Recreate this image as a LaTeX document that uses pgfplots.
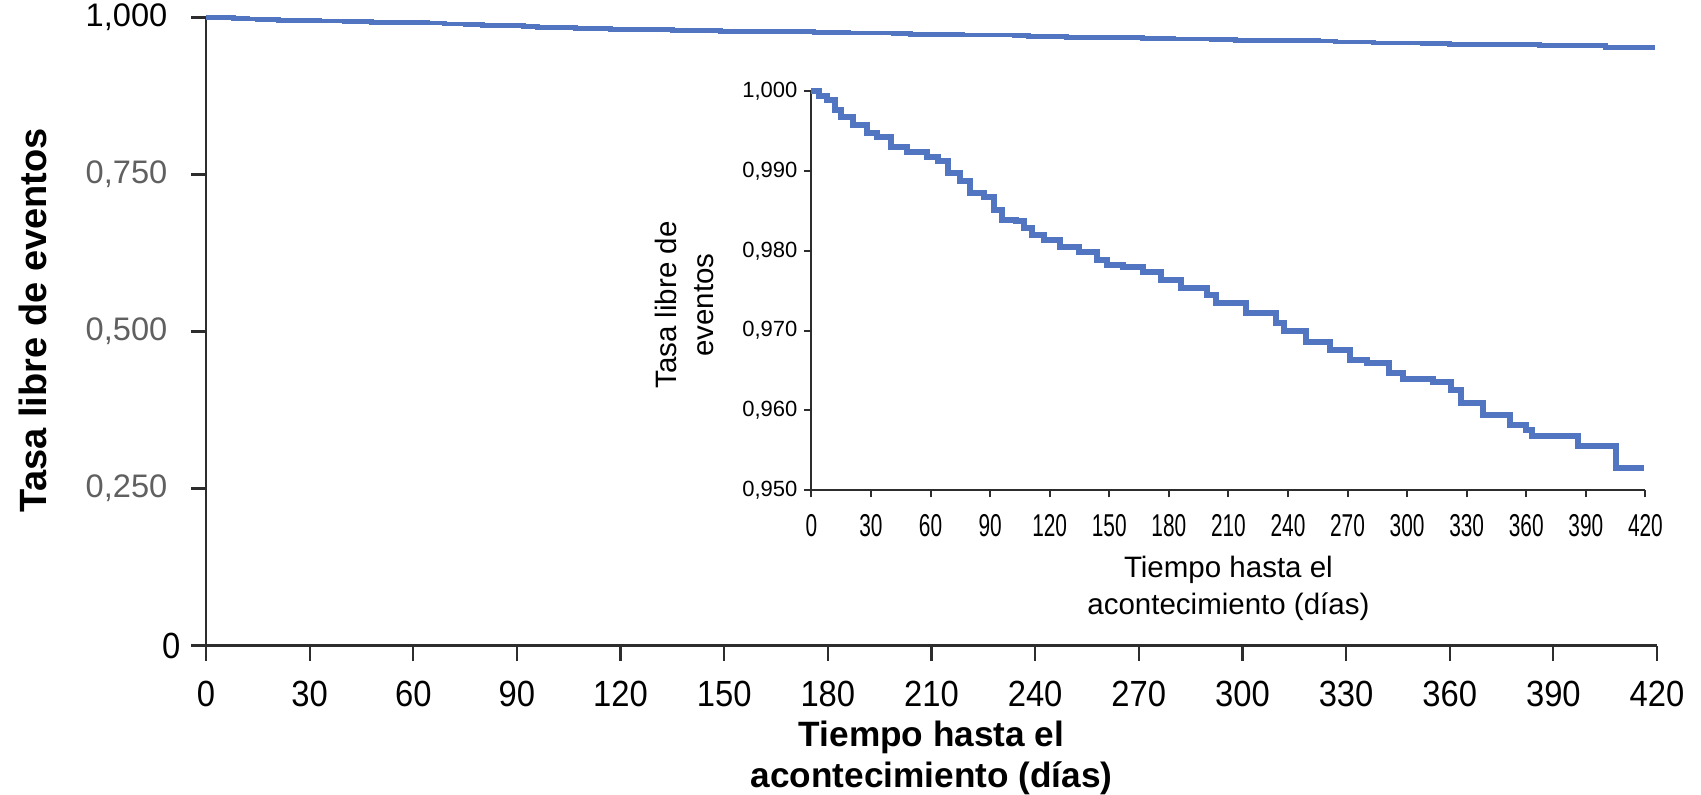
\documentclass[border=0pt]{standalone}
\usepackage{fontspec}
\setmainfont{Liberation Sans}
\newfontfamily\condfont[FakeStretch=0.9]{Liberation Sans}
\newfontfamily\narrowfont[FakeStretch=0.66]{Liberation Sans}
\usepackage{pgfplots}
\pgfplotsset{compat=1.18}
\usepackage{pgfplotstable}

\definecolor{kmblue}{RGB}{82,117,194}
\definecolor{axisgray}{RGB}{45,45,45}
\definecolor{tickgray}{RGB}{96,96,96}

% Kaplan-Meier estimate
\pgfplotstableread{
t s
0 1.0000
4 0.9994
8 0.9989
12 0.9976
15 0.9968
21 0.9958
28 0.9947
33 0.9943
40 0.9930
48 0.9924
58 0.9918
64 0.9912
69 0.9897
75 0.9887
80 0.9872
87 0.9868
92 0.9851
96 0.9839
103 0.9837
107 0.9828
111 0.9820
117 0.9814
125 0.9805
135 0.9799
144 0.9788
149 0.9782
157 0.9780
167 0.9774
176 0.9763
186 0.9753
199 0.9745
204 0.9734
219 0.9722
234 0.9709
238 0.9699
249 0.9686
261 0.9676
271 0.9663
280 0.9659
291 0.9647
298 0.9640
313 0.9636
322 0.9626
327 0.9609
338 0.9594
352 0.9582
360 0.9576
363 0.9568
386 0.9555
405 0.9528
419.5 0.9528
}\kmdata

\begin{document}
\begin{tikzpicture}
\useasboundingbox (-103pt,-74.25pt) rectangle (747.5pt,322.75pt);

% main axis
\begin{axis}[
    at={(0,0)}, anchor=south west,
    scale only axis,
    width=725.5pt, height=314pt,
    xmin=0, xmax=420, ymin=0, ymax=1,
    clip=false,
    axis lines=left,
    axis line style={-, line width=1.1pt, axisgray},
    tick align=outside,
    major tick length=7.5pt,
    tick style={line width=1.1pt, axisgray},
    xtick={0,30,...,420},
    ytick={0,0.25,0.5,0.75,1},
    yticklabels={{\condfont\fontsize{18.2}{22}\selectfont 0\hspace*{-6.5pt}},{\color{tickgray}0,250},{\color{tickgray}0,500},{\color{tickgray}0,750},{1,000}},
    /pgf/number format/assume math mode=true,
    xticklabel style={font=\condfont\fontsize{18.2}{22}\selectfont, anchor=center, yshift=-16.5pt},
    yticklabel style={font=\fontsize{16.3}{19}\selectfont, xshift=-8.3pt},
    xlabel={Tiempo hasta el\\acontecimiento (días)},
    xlabel style={font=\bfseries\fontsize{17.6}{20.5}\selectfont, align=center,
      at={(axis description cs:0.5,-0.1795)}, anchor=center},
    ylabel={Tasa libre de eventos},
    ylabel style={font=\bfseries\fontsize{19}{22}\selectfont,
      at={(axis description cs:-0.1196,0.518)}, anchor=center},
]
\addplot[const plot, kmblue, line width=2.4pt] table[x=t, y=s] {\kmdata};
\end{axis}

% inset
\begin{axis}[
    at={(302.7pt,77.6pt)}, anchor=south west,
    scale only axis,
    width=417pt, height=199.6pt,
    xmin=0, xmax=420, ymin=0.95, ymax=1,
    clip=false,
    axis lines=left,
    axis line style={-, line width=1pt, axisgray},
    tick align=outside,
    major tick length=3.5pt,
    tick style={line width=1pt, axisgray},
    xtick={0,30,...,420},
    ytick={0.95,0.96,0.97,0.98,0.99,1},
    yticklabels={{0,950},{0,960},{0,970},{0,980},{0,990},{1,000}},
    /pgf/number format/assume math mode=true,
    xticklabel style={font=\narrowfont\fontsize{15.8}{18}\selectfont, anchor=center, yshift=-14pt},
    yticklabel style={font=\fontsize{11}{13}\selectfont},
    xlabel={Tiempo hasta el\\acontecimiento (días)},
    xlabel style={font=\fontsize{14.75}{18.5}\selectfont, align=center,
      at={(axis description cs:0.5,-0.246)}, anchor=center},
    ylabel={Tasa libre de\\eventos},
    ylabel style={font=\fontsize{14.75}{18.5}\selectfont, align=center,
      at={(axis description cs:-0.152,0.464)}, anchor=center},
]
\addplot[const plot, kmblue, line width=3pt] table[x=t, y=s] {\kmdata};
\end{axis}
\end{tikzpicture}
\end{document}
